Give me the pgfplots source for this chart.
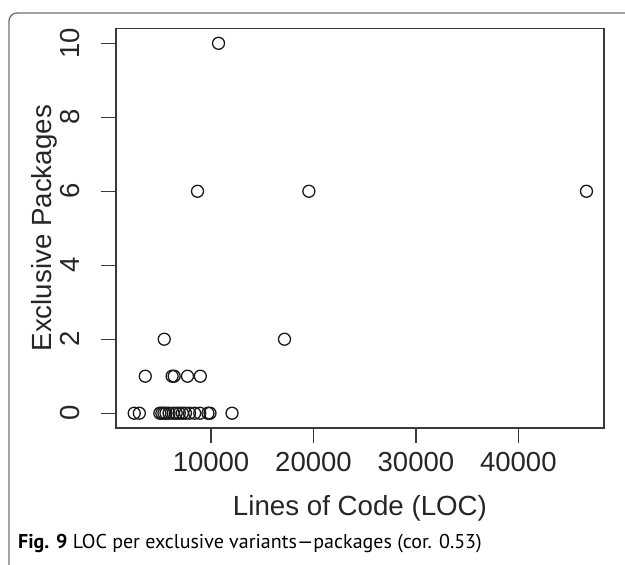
\documentclass[border=0pt]{standalone}
\usepackage{fontspec}
\setmainfont{Liberation Sans}
\newfontfamily\capfont{PT Sans}
\usepackage{pgfplots}
\pgfplotsset{compat=1.18}
\definecolor{axisgray}{HTML}{3A3A3A}
\definecolor{framegray}{HTML}{6E6E6E}

% LOC vs exclusive packages
\pgfplotstableread{
loc pkg
2500 0
3000 0
5000 0
5200 0
5400 0
5600 0
5900 0
6300 0
6600 0
6900 0
7200 0
7500 0
7900 0
8400 0
8900 0
9700 0
9900 0
12050 0
3580 1
6200 1
6400 1
7700 1
8950 1
5430 2
17170 2
8680 6
19550 6
46650 6
10730 10
}\locdata

\begin{document}
\begin{tikzpicture}
\useasboundingbox (-116pt,-137pt) rectangle (509pt,428pt);
% figure frame
\draw[framegray, line width=1.3pt, rounded corners=8pt]
  (-107pt,-140pt) -- (-107pt,415pt) -- (515pt,415pt);
\begin{axis}[
  scale only axis,
  width=488pt, height=399.5pt,
  xmin=722, xmax=48360,
  ymin=-0.4, ymax=10.4,
  xtick={10000,20000,30000,40000},
  ytick={0,2,4,6,8,10},
  scaled ticks=false,
  /pgf/number format/1000 sep={},
  /pgf/number format/assume math mode=true,
  xtick pos=bottom, ytick pos=left,
  tick align=outside,
  major tick length=15pt,
  axis line style={axisgray, line width=1.2pt},
  tick style={axisgray, line width=1.2pt},
  tick label style={font=\fontsize{27.5}{30}\selectfont, text=black!85, inner sep=0pt},
  xticklabel style={anchor=base},
  yticklabel style={rotate=90, anchor=base},
  xticklabel shift=29pt,
  yticklabel shift=21pt,
  label style={font=\fontsize{27.7}{30}\selectfont, text=black!85, inner sep=0pt},
  xlabel={Lines of Code (LOC)},
  ylabel={Exclusive Packages},
  xlabel style={at={([yshift=-88pt]axis description cs:0.5,0)}, anchor=base},
  ylabel style={at={([xshift=-64pt]axis description cs:0,0.5)}, rotate=0, anchor=base},
  clip=false,
]
\addplot[only marks, mark=o, mark size=6pt, line width=1.3pt, black!90]
  table[x=loc, y=pkg] {\locdata};
\end{axis}
\node[anchor=base west, inner sep=0pt, font=\capfont\fontsize{20}{23}\selectfont]
  at (-98pt,-121pt) {\textbf{Fig. 9} LOC per exclusive variants—packages (cor. 0.53)};
\end{tikzpicture}
\end{document}
